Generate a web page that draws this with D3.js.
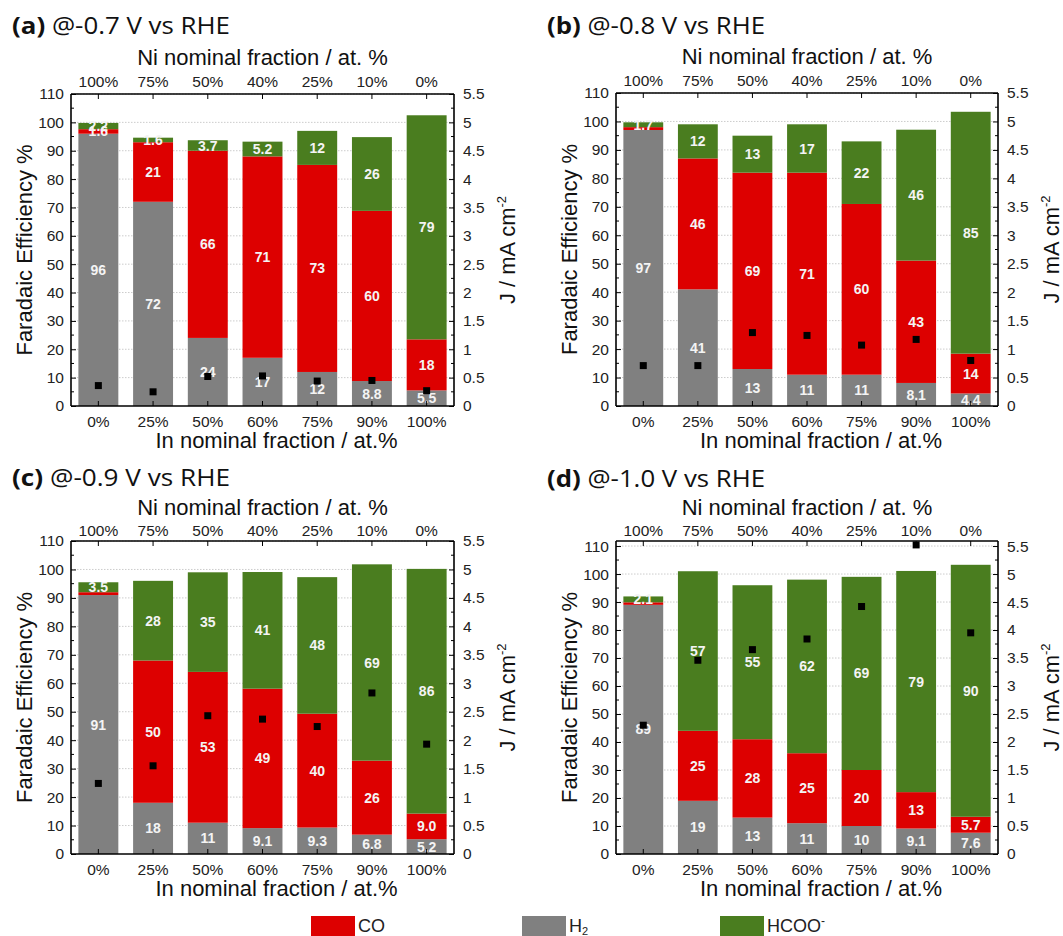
<!DOCTYPE html>
<html><head><meta charset="utf-8">
<script src="https://cdn.jsdelivr.net/npm/d3@7"></script>
<style>
body{margin:0;background:#fff;}
svg{display:block;}
text{font-family:"Liberation Sans",Arial,sans-serif;}
</style></head>
<body>
<svg id="chart" width="1063" height="936"></svg>
<script>
// ---- data ----
const categoriesIn = ["0%","25%","50%","60%","75%","90%","100%"];
const categoriesNi = ["100%","75%","50%","40%","25%","10%","0%"];
const seriesNames = ["H2","CO","HCOO"];
const panelLetters = ["(a)","(b)","(c)","(d)"];
const panelPotentials = ["@-0.7 V vs RHE","@-0.8 V vs RHE","@-0.9 V vs RHE","@-1.0 V vs RHE"];
const yTicksFE = [0,10,20,30,40,50,60,70,80,90,100,110];
const yTicksJ = [0,0.5,1,1.5,2,2.5,3,3.5,4,4.5,5,5.5];

const h2_a   = [96,72,24,17,12,8.8,5.5];
const co_a   = [1.6,21,66,71,73,60,18];
const hcoo_a = [2.2,1.6,3.7,5.2,12,26,79];
const j_a    = [0.36,0.25,0.52,0.53,0.44,0.45,0.27];

const h2_b   = [97,41,13,11,11,8.1,4.4];
const co_b   = [1.0,46,69,71,60,43,14];
const hcoo_b = [1.7,12,13,17,22,46,85];
const j_b    = [0.71,0.71,1.29,1.24,1.07,1.17,0.80];

const h2_c   = [91,18,11,9.1,9.3,6.8,5.2];
const co_c   = [1.0,50,53,49,40,26,9.0];
const hcoo_c = [3.5,28,35,41,48,69,86];
const j_c    = [1.24,1.55,2.43,2.37,2.24,2.83,1.93];

const h2_d   = [89,19,13,11,10,9.1,7.6];
const co_d   = [0.9,25,28,25,20,13,5.7];
const hcoo_d = [2.1,57,55,62,69,79,90];
const j_d    = [2.30,3.46,3.65,3.84,4.42,5.52,3.95];

const feMax = [110,110,110,111.8];

// ---- styling / layout ----
const colors = {H2:"#808080", CO:"#dd0000", HCOO:"#4a7d1f"};
const layout = [
  {x0:71, x1:454, y0:94, y1:406, tx:12, ty:34, nt:29, tp:7},
  {x0:616,x1:998, y0:93, y1:406, tx:547,ty:34, nt:29, tp:7},
  {x0:71, x1:454, y0:541,y1:854, tx:12, ty:486, nt:26, tp:5},
  {x0:616,x1:998, y0:541,y1:854, tx:547,ty:487, nt:26, tp:5}
];
const panelData = [
  {H2:h2_a,CO:co_a,HCOO:hcoo_a,J:j_a},
  {H2:h2_b,CO:co_b,HCOO:hcoo_b,J:j_b},
  {H2:h2_c,CO:co_c,HCOO:hcoo_c,J:j_c},
  {H2:h2_d,CO:co_d,HCOO:hcoo_d,J:j_d}
];

const svg = d3.select("#chart");
const fmt = v => v < 10 ? v.toFixed(1) : d3.format(".0f")(v);

panelData.forEach((pd, pi) => {
  const L = layout[pi];
  const g = svg.append("g");
  const x = d3.scaleBand().domain(categoriesIn).range([L.x0, L.x1]).paddingInner(0.27).paddingOuter(0.135);
  const xTop = d3.scaleBand().domain(categoriesNi).range([L.x0, L.x1]).paddingInner(0.27).paddingOuter(0.135);
  const y = d3.scaleLinear().domain([0, feMax[pi]]).range([L.y1, L.y0]);
  const yJ = d3.scaleLinear().domain([0, feMax[pi]/20]).range([L.y1, L.y0]);

  // title
  const t = g.append("text").attr("x", L.tx).attr("y", L.ty)
    .attr("textLength", 218).attr("lengthAdjust","spacingAndGlyphs")
    .style("font-family","'Open Sans', Lato, sans-serif").style("font-size","24px").attr("fill","#111");
  t.append("tspan").style("font-weight","bold").text(panelLetters[pi]);
  t.append("tspan").text(" " + panelPotentials[pi]);

  // gridlines
  g.append("g").selectAll("line").data(yTicksFE.filter(d => d > 0 && d <= feMax[pi])).join("line")
    .attr("x1", L.x0).attr("x2", L.x1).attr("y1", d => y(d)).attr("y2", d => y(d))
    .attr("stroke","#cccccc").attr("stroke-width",1).attr("stroke-dasharray","1.5,1.5");

  // stacked bars
  const rows = categoriesIn.map((c, i) => ({cat:c, H2:pd.H2[i], CO:pd.CO[i], HCOO:pd.HCOO[i]}));
  const stack = d3.stack().keys(seriesNames)(rows);
  stack.forEach(layer => {
    g.append("g").selectAll("rect").data(layer).join("rect")
      .attr("x", d => x(d.data.cat)).attr("width", x.bandwidth())
      .attr("y", d => y(d[1])).attr("height", d => y(d[0]) - y(d[1]))
      .attr("fill", colors[layer.key]);
  });
  // labels
  stack.forEach(layer => {
    g.append("g").selectAll("text").data(layer.filter(d => d.data[layer.key] >= 1.5)).join("text")
      .attr("x", d => x(d.data.cat) + x.bandwidth()/2)
      .attr("y", d => y((d[0] + d[1]) / 2))
      .attr("dy","0.36em").attr("text-anchor","middle")
      .style("font-size","14px").style("font-weight","bold").attr("fill","#f4f4f4")
      .text(d => fmt(d.data[layer.key]));
  });

  // J markers
  g.append("g").selectAll("rect").data(categoriesIn.map((c,i)=>({cat:c, j:pd.J[i]}))).join("rect")
    .attr("x", d => x(d.cat) + x.bandwidth()/2 - 3.5).attr("y", d => yJ(d.j) - 3.5)
    .attr("width",7).attr("height",7).attr("fill","#000");

  // axes
  const axL = g.append("g").attr("transform",`translate(${L.x0},0)`)
    .call(d3.axisLeft(y).tickValues(yTicksFE).tickSize(-5).tickPadding(7).tickFormat(d3.format("d")));
  axL.append("g").selectAll("line").data(yTicksFE.slice(0,-1).map(v=>v+5)).join("line")
    .attr("x1",0).attr("x2",3).attr("y1",d=>y(d)).attr("y2",d=>y(d)).attr("stroke","#000");
  const axR = g.append("g").attr("transform",`translate(${L.x1},0)`)
    .call(d3.axisRight(yJ).tickValues(yTicksJ).tickSize(-5).tickPadding(9).tickFormat(d => d3.format("")(d)));
  axR.append("g").selectAll("line").data(yTicksJ.slice(0,-1).map(v=>v+0.25)).join("line")
    .attr("x1",0).attr("x2",-3).attr("y1",d=>yJ(d)).attr("y2",d=>yJ(d)).attr("stroke","#000");
  const axB = g.append("g").attr("transform",`translate(0,${L.y1})`)
    .call(d3.axisBottom(x).tickSize(-5).tickPadding(10));
  const axT = g.append("g").attr("transform",`translate(0,${L.y0})`)
    .call(d3.axisTop(xTop).tickSize(-5).tickPadding(L.tp));
  [axL,axR,axB,axT].forEach(a => {
    a.select(".domain").attr("stroke","#000").attr("stroke-width",1.6);
    a.selectAll(".tick line").attr("stroke","#000");
    a.selectAll("text").style("font-size","15.5px").attr("fill","#222").style("font-family","'Liberation Sans',Arial,sans-serif");
  });
  axL.select(".domain").attr("d",`M0,${L.y1}V${L.y0}`);
  axR.select(".domain").attr("d",`M0,${L.y1}V${L.y0}`);
  axB.select(".domain").attr("d",`M${L.x0},0H${L.x1}`);
  axT.select(".domain").attr("d",`M${L.x0},0H${L.x1}`);

  // axis titles
  const cx = (L.x0 + L.x1)/2, cy = (L.y0 + L.y1)/2;
  g.append("text").attr("x", cx).attr("y", L.y0 - L.nt).attr("text-anchor","middle")
    .style("font-size","22px").attr("fill","#111").text("Ni nominal fraction / at. %");
  g.append("text").attr("x", cx + 14).attr("y", L.y1 + 42).attr("text-anchor","middle")
    .style("font-size","22px").attr("fill","#111").text("In nominal fraction / at.%");
  g.append("text").attr("transform",`translate(${L.x0 - 39},${cy}) rotate(-90)`).attr("text-anchor","middle")
    .style("font-size","22px").attr("fill","#111").text("Faradaic Efficiency %");
  const jt = g.append("text").attr("transform",`translate(${L.x1 + 61},${cy}) rotate(-90)`).attr("text-anchor","middle")
    .style("font-size","22px").attr("fill","#111");
  jt.append("tspan").text("J / mA cm");
  jt.append("tspan").attr("dy","-9").style("font-size","13px").text("-2");
});

// legend
const legendItems = [
  {key:"CO", x:311},
  {key:"H2", x:522},
  {key:"HCOO", x:720}
];
const lg = svg.append("g");
legendItems.forEach(it => {
  lg.append("rect").attr("x", it.x).attr("y", 916).attr("width", 44).attr("height", 24).attr("fill", colors[it.key]);
  const tx = lg.append("text").attr("x", it.x + 47).attr("y", 932).style("font-size","18px").attr("fill","#222");
  if (it.key === "H2") { tx.append("tspan").text("H"); tx.append("tspan").attr("dy","3").style("font-size","11px").text("2"); }
  else if (it.key === "HCOO") { tx.append("tspan").text("HCOO"); tx.append("tspan").attr("dy","-7").style("font-size","12px").text("-"); }
  else tx.text("CO");
});
</script>
</body></html>
